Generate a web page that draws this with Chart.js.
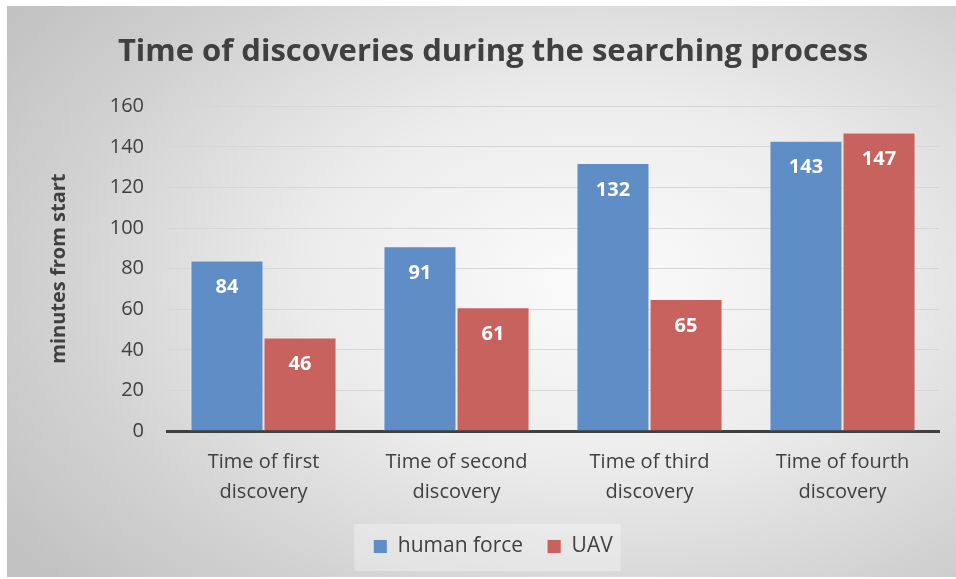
<!DOCTYPE html>
<html>
<head>
<meta charset="utf-8">
<script src="https://cdn.jsdelivr.net/npm/chart.js@4"></script>
<style>
    html, body { margin: 0; padding: 0; background: #fff; }
    #wrap {
        position: absolute; left: 7px; top: 6px; width: 949px; height: 571px;
        background: radial-gradient(ellipse 75% 80% at 62% 48%, #fbfbfb 0%, #ececec 40%, #d2d2d2 75%, #c2c2c2 100%);
    }
</style>
</head>
<body>
<div id="wrap"><canvas id="discoveryChart" width="949" height="571"></canvas></div>
<script>
    // chart data
    var categories = [
        ['Time of first', 'discovery'],
        ['Time of second', 'discovery'],
        ['Time of third', 'discovery'],
        ['Time of fourth', 'discovery']
    ];
    var humanForce = [84, 91, 132, 143];
    var uav = [46, 61, 65, 147];
    var yTicks = [0, 20, 40, 60, 80, 100, 120, 140, 160];

    var FONT = '"Open Sans", "DejaVu Sans", sans-serif';

    // white value labels inside the bars
    var valueLabels = {
        id: 'valueLabels',
        afterDatasetsDraw: function (chart) {
            var ctx = chart.ctx;
            ctx.save();
            ctx.fillStyle = '#ffffff';
            ctx.font = 'bold 20px ' + FONT;
            ctx.textAlign = 'center';
            ctx.textBaseline = 'middle';
            chart.data.datasets.forEach(function (ds, i) {
                chart.getDatasetMeta(i).data.forEach(function (bar, j) {
                    ctx.fillText(ds.data[j], bar.x, bar.y + 27);
                });
            });
            ctx.restore();
        }
    };

    // faint box behind the legend
    var legendBox = {
        id: 'legendBox',
        beforeDraw: function (chart) {
            var boxes = chart.legend.legendHitBoxes;
            if (!boxes || !boxes.length) return;
            var left = boxes[0].left, right = 0, top = boxes[0].top, bottom = 0;
            boxes.forEach(function (b) {
                left = Math.min(left, b.left);
                right = Math.max(right, b.left + b.width);
                top = Math.min(top, b.top);
                bottom = Math.max(bottom, b.top + b.height);
            });
            var ctx = chart.ctx;
            ctx.save();
            ctx.fillStyle = 'rgba(255,255,255,0.3)';
            ctx.fillRect(left - 19, top - 12, right - left + 27, bottom - top + 26);
            ctx.restore();
        }
    };

    var ctx = document.getElementById('discoveryChart');
    var discoveryChart = new Chart(ctx, {
        type: 'bar',
        data: {
            labels: categories,
            datasets: [{
                label: 'human force',
                data: humanForce,
                backgroundColor: '#5f8dc6',
                borderColor: 'rgba(235,242,250,0.75)',
                borderWidth: 1
            }, {
                label: 'UAV',
                data: uav,
                backgroundColor: '#c8625f',
                borderColor: 'rgba(250,235,235,0.75)',
                borderWidth: 1
            }]
        },
        plugins: [valueLabels, legendBox],
        options: {
            responsive: false,
            animation: false,
            devicePixelRatio: 1,
            categoryPercentage: 0.757,
            barPercentage: 1,
            layout: {
                padding: { left: 40, right: 17, top: 0, bottom: 10 }
            },
            plugins: {
                title: {
                    display: true,
                    text: 'Time of discoveries during the searching process',
                    color: '#404040',
                    font: { family: FONT, size: 31, weight: 'bold' },
                    padding: { top: 28, bottom: 35 }
                },
                legend: {
                    position: 'bottom',
                    labels: {
                        color: '#404040',
                        font: { family: FONT, size: 21 },
                        boxWidth: 14,
                        boxHeight: 14,
                        padding: 24
                    }
                },
                tooltip: { enabled: false }
            },
            scales: {
                x: {
                    afterFit: function (scale) { scale.height -= 11; },
                    grid: { display: false, drawTicks: false },
                    border: { display: true, color: '#404040', width: 3 },
                    ticks: {
                        color: '#404040',
                        font: { family: FONT, size: 20, lineHeight: 1.5 },
                        padding: 16,
                        maxRotation: 0
                    }
                },
                y: {
                    min: 0,
                    max: 160,
                    afterBuildTicks: function (scale) {
                        scale.ticks = yTicks.map(function (v) { return { value: v }; });
                    },
                    afterFit: function (scale) { scale.width = 120; },
                    grid: { color: '#d6d6d6', lineWidth: 1, drawTicks: false },
                    border: { display: false },
                    ticks: {
                        color: '#404040',
                        font: { family: FONT, size: 20 },
                        padding: 23
                    },
                    title: {
                        display: true,
                        text: 'minutes from start',
                        color: '#404040',
                        font: { family: FONT, size: 20, weight: 'bold' },
                        padding: 0
                    }
                }
            }
        }
    });
</script>
</body>
</html>
